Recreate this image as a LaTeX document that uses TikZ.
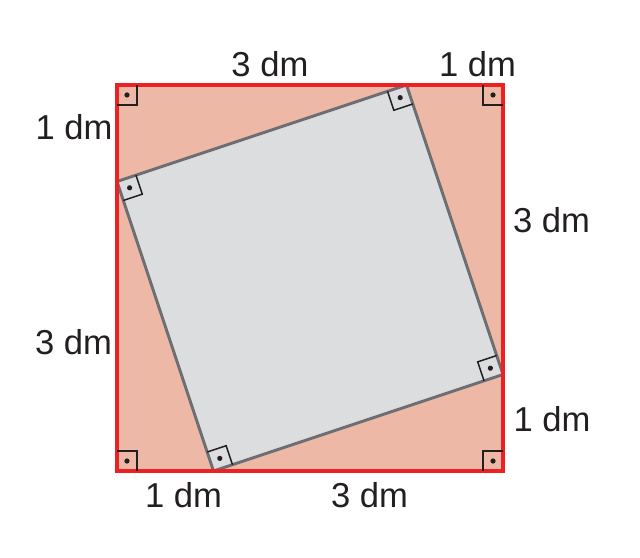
\documentclass[tikz,border=0pt]{standalone}
\usepackage{fontspec}
\setmainfont{Liberation Sans}
\definecolor{salmon}{RGB}{237,185,166}
\definecolor{redline}{RGB}{237,32,36}
\definecolor{greyfill}{RGB}{220,221,223}
\definecolor{greyline}{RGB}{109,110,113}
\definecolor{markline}{RGB}{35,31,32}
\tikzset{
  outersq/.style={draw=redline,line width=2.8pt},
  innersq/.style={draw=greyline,fill=greyfill,line width=2.2pt},
  rmark/.style={draw=markline,line width=1.1pt},
  lbl/.style={font=\fontsize{25.5}{30}\selectfont,text=markline,inner sep=0pt}
}
\begin{document}
\begin{tikzpicture}[x=2.5cm,y=2.5cm]
\useasboundingbox (-1.2124,-0.8912) rectangle (5.4197,4.8808);

\coordinate (A) at (0,0);
\coordinate (B) at (4,0);
\coordinate (C) at (4,4);
\coordinate (D) at (0,4);
\coordinate (P) at (1,0);
\coordinate (Q) at (4,1);
\coordinate (R) at (3,4);
\coordinate (S) at (0,3);

\fill[salmon] (A) rectangle (C);
\draw[innersq] (P)--(Q)--(R)--(S)--cycle;
\draw[outersq] (A) rectangle (C);

% right angles
\foreach \c/\r in {A/0,B/90,C/180,D/270,P/18.43,Q/108.43,R/198.43,S/288.43}{
  \begin{scope}[shift={(\c)},rotate=\r]
    \draw[rmark] (0.207,0)--(0.207,0.207)--(0,0.207);
    \fill[markline] (0.1035,0.1035) circle (0.027);
  \end{scope}
}

\node (t1) at (1.585,4.22)[lbl]{3 dm};
\node (t2) at (3.736,4.22)[lbl]{1 dm};
\node (l1) at (-0.446,3.565)[lbl]{1 dm};
\node (l2) at (-0.451,1.337)[lbl]{3 dm};
\node (r1) at (4.503,2.596)[lbl]{3 dm};
\node (r2) at (4.508,0.539)[lbl]{1 dm};
\node (b1) at (0.689,-0.249)[lbl]{1 dm};
\node (b2) at (2.617,-0.249)[lbl]{3 dm};
\end{tikzpicture}
\end{document}
